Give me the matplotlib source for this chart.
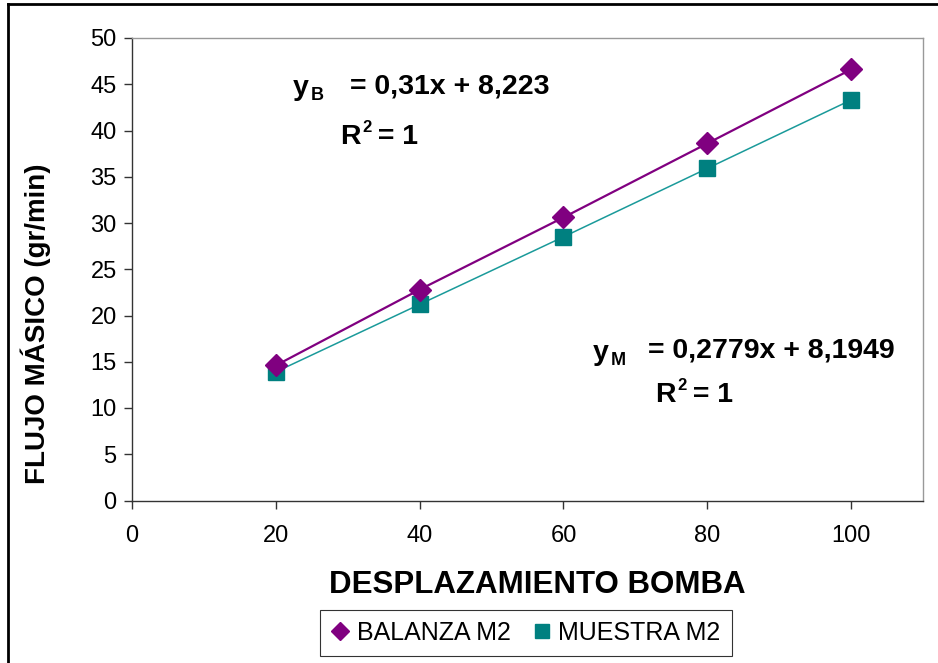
import matplotlib
matplotlib.use("Agg")
import matplotlib.pyplot as plt
from matplotlib.lines import Line2D

plt.rcParams['font.family'] = ['Liberation Sans', 'DejaVu Sans']

desplazamiento = [20, 40, 60, 80, 100]
balanza_m2 = [14.6, 22.8, 30.6, 38.6, 46.6]
muestra_m2 = [13.9, 21.2, 28.5, 35.9, 43.3]
x_ticks = [0, 20, 40, 60, 80, 100]
y_ticks = [0, 5, 10, 15, 20, 25, 30, 35, 40, 45, 50]

purple = '#800080'
teal = '#008080'

W, H = 938, 663
fig = plt.figure(figsize=(W / 100, H / 100), dpi=100)
ax = fig.add_axes([132 / W, 1 - 500.5 / H, 791 / W, 462.5 / H])

ax.plot(desplazamiento, balanza_m2, color=purple, lw=1.6, marker='D', ms=11,
        markerfacecolor=purple, markeredgecolor=purple, label='BALANZA M2', zorder=3)
ax.plot(desplazamiento, muestra_m2, color='#1a9a9a', lw=1.1, marker='s', ms=12,
        markerfacecolor=teal, markeredgecolor=teal, label='MUESTRA M2', zorder=2)

ax.set_xlim(0, 110)
ax.set_ylim(0, 50)
ax.set_xticks(x_ticks)
ax.set_yticks(y_ticks)
ax.tick_params(axis='both', labelsize=17, direction='out', length=6, width=1.0, color='#333333')
ax.tick_params(axis='x', pad=12)
ax.tick_params(axis='y', pad=5)
for s in ['top', 'right']:
    ax.spines[s].set_color('#999999')
    ax.spines[s].set_linewidth(1.0)
for s in ['left', 'bottom']:
    ax.spines[s].set_color('#333333')
    ax.spines[s].set_linewidth(1.0)

ax.set_xlabel('DESPLAZAMIENTO BOMBA', fontsize=22.5, fontweight='bold', va='center')
ax.xaxis.set_label_coords((537 - 132) / 791, -(585 - 500.5) / 462.5)
ax.set_ylabel('FLUJO MÁSICO (gr/min)', fontsize=20, fontweight='bold', va='center')
ax.yaxis.set_label_coords((36 - 132) / 791, (500.5 - 324) / 462.5)


def ptext(x, y, s, size, **kw):
    fig.text(x / W, 1 - y / H, s, fontsize=size, fontweight='bold', va='baseline', ha='left', **kw)


EQ = 20.5
# Equation BALANZA
ptext(293, 95, 'y', EQ)
ptext(311, 100, 'B', 13)
ptext(350, 93, '= 0,31x + 8,223', EQ)
ptext(340, 144, 'R', EQ)
ptext(362, 132, '2', 12)
ptext(370, 144, ' = 1', EQ)

# Equation MUESTRA
ptext(593, 360, 'y', EQ)
ptext(611, 365, 'M', 13)
ptext(648, 358, '= 0,2779x + 8,1949', EQ)
ptext(655, 402, 'R', EQ)
ptext(677, 390, '2', 12)
ptext(685, 402, ' = 1', EQ)

leg = fig.legend(loc='center', bbox_to_anchor=(526 / W, 1 - 633 / H), ncol=2, frameon=True,
                 fancybox=False, edgecolor='#000000', fontsize=18, handlelength=0.7,
                 handletextpad=0.3, columnspacing=0.9, borderpad=0.45, markerscale=0.85)
for h in leg.legend_handles:
    h.set_linestyle('None')
leg.get_frame().set_linewidth(0.8)

# outer frame (top and left visible)
fig.add_artist(Line2D([8 / W, 1.0], [1 - 3.5 / H, 1 - 3.5 / H], transform=fig.transFigure, color='black', lw=2))
fig.add_artist(Line2D([8 / W, 8 / W], [0.0, 1 - 3.5 / H], transform=fig.transFigure, color='black', lw=2))

fig.savefig('out.png', dpi=100)
